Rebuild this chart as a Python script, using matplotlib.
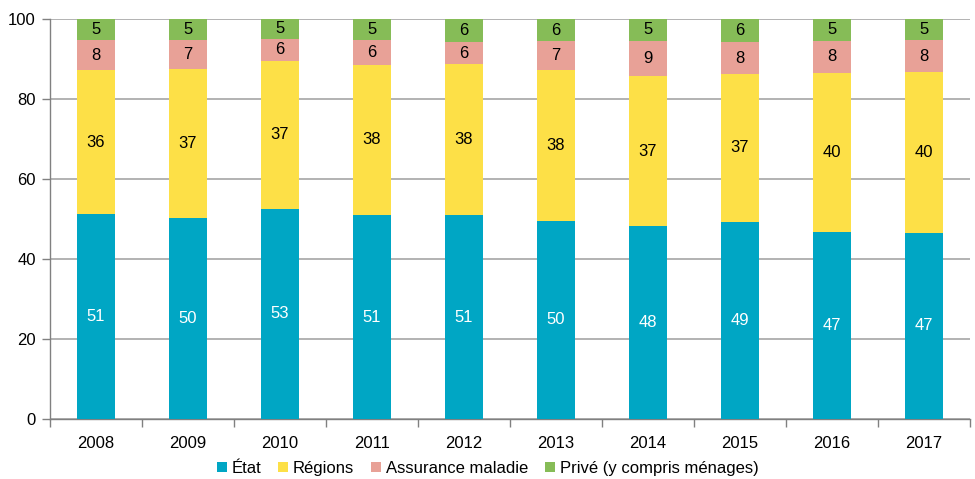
import matplotlib
matplotlib.use("Agg")
import matplotlib.pyplot as plt
import numpy as np
from matplotlib import font_manager

years = ["2008", "2009", "2010", "2011", "2012", "2013", "2014", "2015", "2016", "2017"]
etat = [51.2, 50.4, 52.6, 51.0, 51.0, 49.6, 48.3, 49.3, 46.7, 46.6]
regions = [36.0, 37.1, 36.9, 37.6, 37.7, 37.7, 37.4, 37.0, 39.8, 40.1]
assurance = [7.6, 7.4, 5.6, 6.1, 5.6, 7.2, 8.9, 7.9, 8.1, 8.0]
prive = [5.2, 5.1, 4.9, 5.3, 5.7, 5.5, 5.4, 5.8, 5.4, 5.3]
series_names = ["État", "Régions", "Assurance maladie", "Privé (y compris ménages)"]

names = {f.name for f in font_manager.fontManager.ttflist}
fam = ["Liberation Sans Narrow"] if "Liberation Sans Narrow" in names else ["Liberation Sans"]
plt.rcParams["font.family"] = fam + ["DejaVu Sans"]

colors = ["#00A6C4", "#FDE047", "#E8A197", "#86BC57"]
label_colors = ["white", "black", "black", "black"]

fig = plt.figure(figsize=(9.75, 4.79), dpi=100)
ax = fig.add_axes([0.051, 0.125, 0.944, 0.835])

x = np.arange(len(years))
data = [etat, regions, assurance, prive]
bottom = np.zeros(len(years))
for vals, col, lc, name in zip(data, colors, label_colors, series_names):
    vals = np.array(vals)
    ax.bar(x, vals, 0.41, bottom=bottom, color=col, label=name, zorder=3)
    for xi, b, v in zip(x, bottom, vals):
        ax.text(xi, b + v / 2, f"{int(round(v))}", ha="center", va="center",
                color=lc, fontsize=12, zorder=4)
    bottom += vals

ax.set_xlim(-0.5, len(years) - 0.5)
ax.set_ylim(0, 100)
ax.set_yticks([0, 20, 40, 60, 80, 100])
ax.yaxis.grid(True, color="#A6A6A6", linewidth=1.2, zorder=0)
ax.set_xticks(x)
ax.set_xticklabels(years)
ax.set_xticks(np.arange(-0.5, len(years)), minor=True)
ax.tick_params(axis="x", which="major", length=0, pad=12, labelsize=12)
ax.tick_params(axis="x", which="minor", length=6, color="#808080", width=1)
ax.tick_params(axis="y", length=6, color="#808080", width=1, labelsize=12, pad=4)
for s in ["top", "right"]:
    ax.spines[s].set_visible(False)
for s in ["left", "bottom"]:
    ax.spines[s].set_color("#808080")
    ax.spines[s].set_linewidth(1)

leg = fig.legend(loc="lower center", bbox_to_anchor=(0.5, -0.025), ncol=4, frameon=False,
                 fontsize=12, handlelength=0.6, handleheight=0.6, handletextpad=0.3,
                 columnspacing=1.0)

fig.savefig("out.png", dpi=100)
